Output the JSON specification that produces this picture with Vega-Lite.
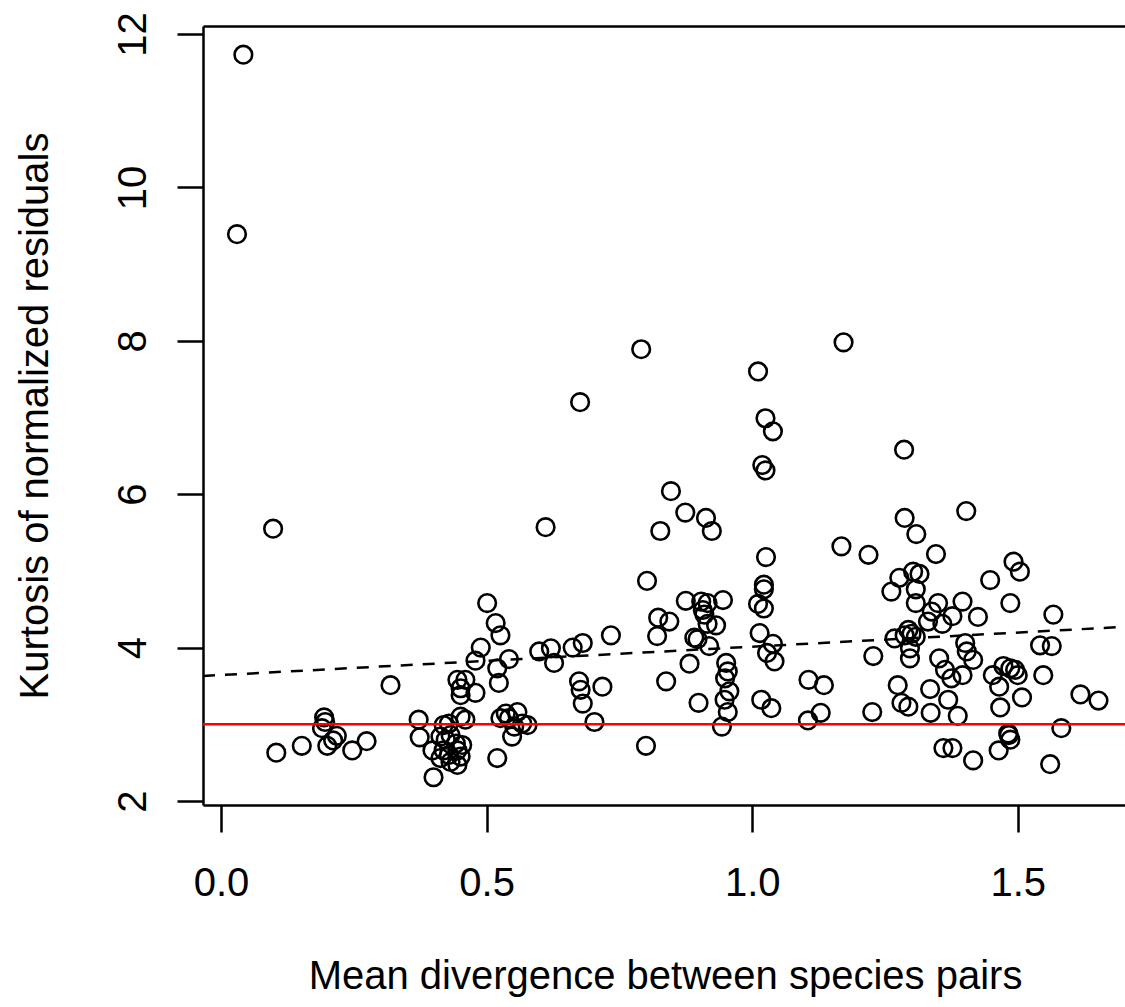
{
  "$schema": "https://vega.github.io/schema/vega-lite/v6.json",
  "width": 922,
  "height": 779,
  "autosize": {"type": "none"},
  "padding": {"left": 203, "top": 26, "right": 0, "bottom": 202},
  "background": "white",
  "config": {
    "view": {"stroke": null},
    "font": "Liberation Sans",
    "axis": {"grid": false, "domainColor": "black", "domainWidth": 2.5, "tickColor": "black", "tickWidth": 2.5, "labelColor": "black", "titleColor": "black", "labelFont": "Liberation Sans", "titleFont": "Liberation Sans", "labelFontSize": 40, "titleFontSize": 40, "titleFontWeight": "normal", "labelFlush": false, "labelOverlap": false}
  },
  "datasets": {
    "pts": [
      {"d":0.042,"k":11.73},{"d":0.030,"k":9.39},{"d":0.098,"k":5.55},{"d":0.104,"k":2.63},{"d":0.152,"k":2.72},
      {"d":0.194,"k":3.09},{"d":0.196,"k":3.03},{"d":0.190,"k":2.95},{"d":0.200,"k":2.72},{"d":0.211,"k":2.79},
      {"d":0.218,"k":2.85},{"d":0.247,"k":2.66},{"d":0.274,"k":2.78},{"d":0.319,"k":3.51},{"d":0.372,"k":3.06},
      {"d":0.374,"k":2.83},{"d":0.398,"k":2.66},{"d":0.400,"k":2.31},{"d":0.419,"k":2.99},{"d":0.429,"k":3.01},
      {"d":0.460,"k":3.06},{"d":0.451,"k":3.10},{"d":0.413,"k":2.84},{"d":0.423,"k":2.80},{"d":0.432,"k":2.86},
      {"d":0.442,"k":2.75},{"d":0.419,"k":2.66},{"d":0.429,"k":2.60},{"d":0.445,"k":2.66},{"d":0.451,"k":2.58},
      {"d":0.445,"k":2.47},{"d":0.432,"k":2.51},{"d":0.454,"k":2.73},{"d":0.413,"k":2.56},{"d":0.501,"k":4.58},
      {"d":0.517,"k":4.32},{"d":0.526,"k":4.16},{"d":0.489,"k":4.00},{"d":0.479,"k":3.83},{"d":0.445,"k":3.58},
      {"d":0.460,"k":3.58},{"d":0.451,"k":3.47},{"d":0.451,"k":3.38},{"d":0.479,"k":3.41},{"d":0.520,"k":3.73},
      {"d":0.542,"k":3.85},{"d":0.523,"k":3.54},{"d":0.599,"k":3.95},{"d":0.621,"k":3.99},{"d":0.627,"k":3.80},
      {"d":0.662,"k":4.00},{"d":0.681,"k":4.06},{"d":0.674,"k":3.56},{"d":0.677,"k":3.45},{"d":0.681,"k":3.27},
      {"d":0.536,"k":3.14},{"d":0.558,"k":3.16},{"d":0.542,"k":3.08},{"d":0.567,"k":3.01},{"d":0.552,"k":2.97},
      {"d":0.548,"k":2.84},{"d":0.577,"k":2.99},{"d":0.520,"k":2.56},{"d":0.526,"k":3.08},{"d":0.611,"k":5.57},
      {"d":0.791,"k":7.89},{"d":0.676,"k":7.20},{"d":0.847,"k":6.04},{"d":0.874,"k":5.76},{"d":0.913,"k":5.69},
      {"d":0.924,"k":5.52},{"d":0.827,"k":5.52},{"d":0.802,"k":4.87},{"d":0.875,"k":4.61},{"d":0.904,"k":4.60},
      {"d":0.916,"k":4.58},{"d":0.945,"k":4.62},{"d":0.907,"k":4.49},{"d":0.910,"k":4.43},{"d":0.823,"k":4.39},
      {"d":0.844,"k":4.34},{"d":0.821,"k":4.15},{"d":0.916,"k":4.31},{"d":0.932,"k":4.29},{"d":0.891,"k":4.13},
      {"d":0.897,"k":4.11},{"d":0.919,"k":4.02},{"d":0.734,"k":4.16},{"d":0.882,"k":3.79},{"d":0.838,"k":3.56},
      {"d":0.718,"k":3.49},{"d":0.703,"k":3.03},{"d":0.800,"k":2.72},{"d":0.899,"k":3.28},{"d":0.951,"k":3.80},
      {"d":0.954,"k":3.69},{"d":0.949,"k":3.60},{"d":0.957,"k":3.43},{"d":0.948,"k":3.32},{"d":0.954,"k":3.16},
      {"d":0.943,"k":2.97},{"d":1.172,"k":7.98},{"d":1.011,"k":7.60},{"d":1.025,"k":6.99},{"d":1.039,"k":6.82},
      {"d":1.019,"k":6.38},{"d":1.025,"k":6.31},{"d":1.286,"k":6.58},{"d":1.026,"k":5.18},{"d":1.168,"k":5.32},
      {"d":1.219,"k":5.21},{"d":1.022,"k":4.82},{"d":1.022,"k":4.76},{"d":1.011,"k":4.57},{"d":1.022,"k":4.51},
      {"d":1.014,"k":4.19},{"d":1.039,"k":4.05},{"d":1.028,"k":3.93},{"d":1.042,"k":3.82},{"d":1.017,"k":3.32},
      {"d":1.036,"k":3.21},{"d":1.106,"k":3.58},{"d":1.135,"k":3.51},{"d":1.105,"k":3.05},{"d":1.129,"k":3.15},
      {"d":1.228,"k":3.89},{"d":1.226,"k":3.16},{"d":1.287,"k":5.69},{"d":1.309,"k":5.48},{"d":1.277,"k":4.91},
      {"d":1.262,"k":4.73},{"d":1.268,"k":4.12},{"d":1.274,"k":3.51},{"d":1.281,"k":3.28},{"d":1.294,"k":3.23},
      {"d":1.403,"k":5.78},{"d":1.346,"k":5.22},{"d":1.448,"k":4.88},{"d":1.303,"k":4.99},{"d":1.315,"k":4.96},
      {"d":1.308,"k":4.76},{"d":1.308,"k":4.58},{"d":1.350,"k":4.58},{"d":1.396,"k":4.60},{"d":1.338,"k":4.47},
      {"d":1.377,"k":4.41},{"d":1.425,"k":4.40},{"d":1.331,"k":4.34},{"d":1.358,"k":4.31},{"d":1.294,"k":4.23},
      {"d":1.300,"k":4.18},{"d":1.287,"k":4.16},{"d":1.308,"k":4.14},{"d":1.297,"k":3.99},{"d":1.297,"k":3.86},
      {"d":1.401,"k":4.06},{"d":1.404,"k":3.95},{"d":1.416,"k":3.84},{"d":1.352,"k":3.86},{"d":1.363,"k":3.71},
      {"d":1.375,"k":3.60},{"d":1.396,"k":3.64},{"d":1.453,"k":3.64},{"d":1.473,"k":3.76},{"d":1.465,"k":3.49},
      {"d":1.335,"k":3.46},{"d":1.369,"k":3.32},{"d":1.336,"k":3.15},{"d":1.387,"k":3.11},{"d":1.467,"k":3.22},
      {"d":1.360,"k":2.69},{"d":1.377,"k":2.69},{"d":1.416,"k":2.53},{"d":1.464,"k":2.66},{"d":1.483,"k":2.86},
      {"d":1.492,"k":5.12},{"d":1.504,"k":4.99},{"d":1.486,"k":4.58},{"d":1.567,"k":4.43},{"d":1.542,"k":4.03},
      {"d":1.564,"k":4.02},{"d":1.486,"k":3.73},{"d":1.495,"k":3.71},{"d":1.500,"k":3.64},{"d":1.548,"k":3.64},
      {"d":1.508,"k":3.35},{"d":1.618,"k":3.39},{"d":1.652,"k":3.31},{"d":1.582,"k":2.95},{"d":1.482,"k":2.88},
      {"d":1.486,"k":2.80},{"d":1.561,"k":2.48}
    ],
    "fit": [{"d": -0.034, "k": 3.630}, {"d": 1.7019, "k": 4.271}],
    "ref": [{"k": 3}]
  },
  "layer": [
    {
      "data": {"name": "pts"},
      "mark": {"type": "point", "shape": "circle", "filled": false, "stroke": "black", "strokeWidth": 2.6, "size": 310, "opacity": 1},
      "encoding": {
        "x": {"field": "d", "type": "quantitative",
          "scale": {"domain": [-0.034, 1.7019], "nice": false, "zero": false},
          "axis": {"orient": "bottom", "values": [0, 0.5, 1, 1.5], "format": ".1f", "tickSize": 27, "labelPadding": 63, "labelBaseline": "alphabetic", "labelAlign": "center",
            "title": "Mean divergence between species pairs", "titleX": 462, "titleY": 183, "titleAlign": "center", "titleBaseline": "alphabetic", "titleAnchor": null}},
        "y": {"field": "k", "type": "quantitative",
          "scale": {"domain": [1.948, 12.104], "nice": false, "zero": false},
          "axis": {"orient": "left", "values": [2, 4, 6, 8, 10, 12], "format": "d", "tickSize": 26, "labelPadding": 32, "labelAngle": 270, "labelAlign": "center", "labelBaseline": "alphabetic",
            "title": "Kurtosis of normalized residuals", "titleAngle": 270, "titleX": -156, "titleY": 389.5, "titleAlign": "center", "titleBaseline": "alphabetic", "titleAnchor": null}}
      }
    },
    {
      "data": {"name": "fit"},
      "mark": {"type": "line", "color": "black", "strokeWidth": 2.5, "strokeDash": [12, 10]},
      "encoding": {
        "x": {"field": "d", "type": "quantitative",
          "axis": {"orient": "top", "labels": false, "ticks": false, "title": null, "domain": true}},
        "y": {"field": "k", "type": "quantitative"}
      }
    },
    {
      "data": {"name": "ref"},
      "mark": {"type": "rule", "color": "#ff0000", "strokeWidth": 2.5},
      "encoding": {"y": {"field": "k", "type": "quantitative"}}
    }
  ],
  "resolve": {"axis": {"x": "independent"}}
}
